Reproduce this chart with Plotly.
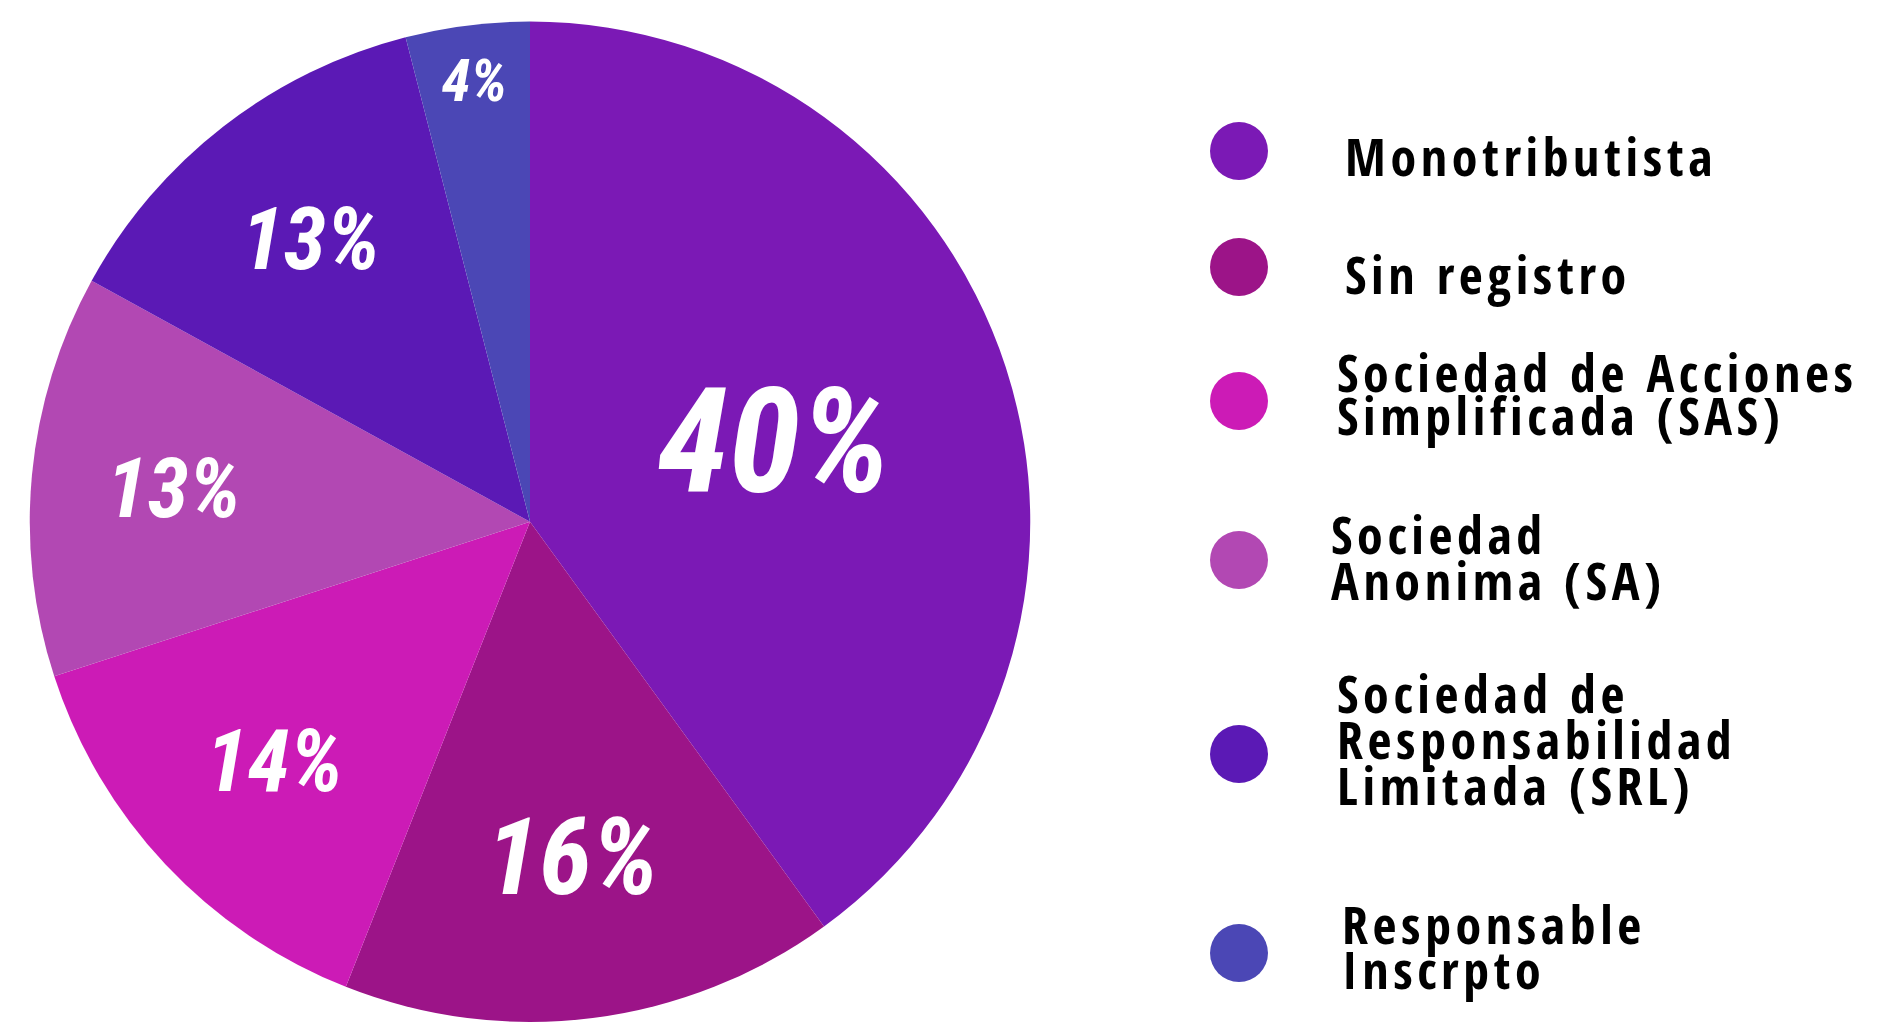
import plotly.graph_objects as go

# Company legal forms and their share (%)
categories = [
    "Monotributista",
    "Sin registro",
    "Sociedad de Acciones Simplificada (SAS)",
    "Sociedad Anonima (SA)",
    "Sociedad de Responsabilidad Limitada (SRL)",
    "Responsable Inscrpto",
]
shares = [40, 16, 14, 13, 13, 4]

# Legend text, broken into display lines
legend_lines = [
    ["Monotributista"],
    ["Sin registro"],
    ["Sociedad de Acciones", "Simplificada (SAS)"],
    ["Sociedad", "Anonima (SA)"],
    ["Sociedad de", "Responsabilidad", "Limitada (SRL)"],
    ["Responsable", "Inscrpto"],
]

colors = ["#7B19B5", "#9C1488", "#CC1BB6", "#B248B3", "#5B19B5", "#4B47B5"]
label_sizes = [146, 108, 86, 84, 87, 59]

W, H = 1886, 1023
LEGEND_FONT = "Open Sans Condensed, Roboto Condensed, DejaVu Sans Condensed, sans-serif"
LABEL_FONT = "Roboto Condensed, DejaVu Sans Condensed, sans-serif"

fig = go.Figure(
    go.Pie(
        labels=categories,
        values=shares,
        sort=False,
        direction="clockwise",
        rotation=0,
        marker=dict(colors=colors, line=dict(width=0)),
        texttemplate="%{value}%",
        textposition="inside",
        insidetextorientation="horizontal",
        textfont=dict(family=LABEL_FONT, size=label_sizes, color="white",
                      weight="bold", style="italic"),
        hoverinfo="skip",
        showlegend=False,
        domain=dict(x=[27 / W, 1033 / W], y=[1 - 1022 / H, 1 - 21.5 / H]),
    )
)

# Custom legend: colored dots with tightly stacked label lines (pixel layout)
marker_cx = 1239
marker_r = 29
marker_cy = [151, 267, 401, 560, 754, 953]
first_line_mid = [156, 273, 371, 533, 692, 923]
line_gap = [44, 44, 43, 46, 46, 45]
text_left = [1343, 1343, 1335, 1329, 1335, 1340]

shapes = []
annotations = []
for i, color in enumerate(colors):
    cy = marker_cy[i]
    shapes.append(dict(
        type="circle", xref="paper", yref="paper",
        x0=(marker_cx - marker_r) / W, x1=(marker_cx + marker_r) / W,
        y0=1 - (cy + marker_r) / H, y1=1 - (cy - marker_r) / H,
        fillcolor=color, line=dict(width=0),
    ))
    for j, line in enumerate(legend_lines[i]):
        ym = first_line_mid[i] + j * line_gap[i]
        annotations.append(dict(
            text=line, xref="paper", yref="paper",
            x=text_left[i] / W, y=1 - ym / H,
            xanchor="left", yanchor="middle", align="left", showarrow=False,
            font=dict(family=LEGEND_FONT, size=52, color="black", weight="bold"),
        ))

fig.update_layout(
    width=W, height=H,
    margin=dict(l=0, r=0, t=0, b=0),
    paper_bgcolor="white",
    plot_bgcolor="white",
    shapes=shapes,
    annotations=annotations,
)

# Widen the tracking of the legend lettering
tracking_css = (
    "var s = document.createElement('style');"
    "s.textContent = '.annotation-text { letter-spacing: 4.6px; }';"
    "document.head.appendChild(s);"
)

fig.write_html("out.html", post_script=tracking_css)
